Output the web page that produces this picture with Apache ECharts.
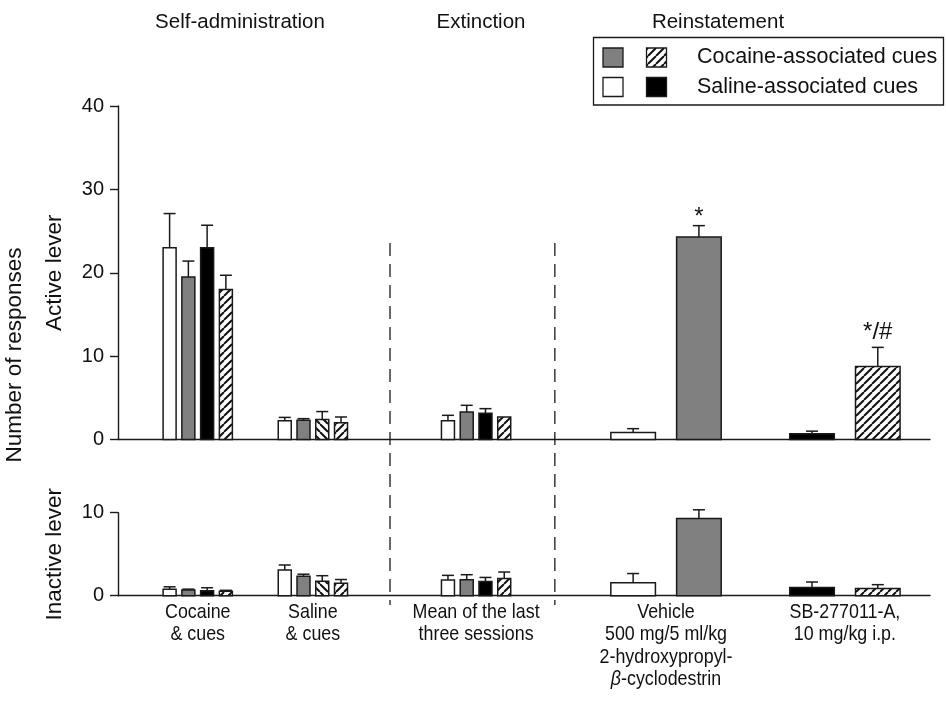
<!DOCTYPE html>
<html>
<head>
<meta charset="utf-8">
<script src="https://cdn.jsdelivr.net/npm/echarts@6/dist/echarts.min.js"></script>
<style>
  html, body { margin: 0; padding: 0; background: #ffffff; }
  #chart { width: 946px; height: 704px; }
</style>
</head>
<body>
<div id="chart"></div>
<script>
// ---- data ---------------------------------------------------------------
const groupLabels = [
  'Cocaine\n& cues',
  'Saline\n& cues',
  'Mean of the last\nthree sessions',
  'Vehicle\n500 mg/5 ml/kg\n2-hydroxypropyl-\n{it|β}-cyclodestrin',
  'SB-277011-A,\n10 mg/kg i.p.'
];
const phaseTitles = ['Self-administration', 'Extinction', 'Reinstatement'];
const legendLabels = ['Cocaine-associated cues', 'Saline-associated cues'];
const panelNames = ['Active lever', 'Inactive lever'];
const sharedYName = 'Number of responses';

// which x group each bar belongs to, and its cue condition
const barGroup = [0, 0, 0, 0, 1, 1, 1, 1, 2, 2, 2, 2, 3, 3, 4, 4];
const barCondition = [
  'salineA', 'cocaineA', 'salineB', 'cocaineB',
  'salineA', 'cocaineA', 'salineB', 'cocaineB',
  'salineA', 'cocaineA', 'salineB', 'cocaineB',
  'salineA', 'cocaineA',
  'salineB', 'cocaineB'
];

// mean responses and SEM, active lever
const activeMean = [23.0, 19.5, 23.0, 18.0, 2.25, 2.3, 2.4, 2.0, 2.25, 3.3, 3.15, 2.7, 0.85, 24.3, 0.7, 8.75];
const activeSem  = [4.1, 1.9, 2.7, 1.7, 0.4, 0.2, 0.95, 0.7, 0.65, 0.8, 0.55, 0, 0.45, 1.35, 0.3, 2.3];
const activeMarks = ['', '', '', '', '', '', '', '', '', '', '', '', '', '*', '', '*/#'];

// mean responses and SEM, inactive lever
const inactiveMean = [0.77, 0.69, 0.6, 0.53, 3.1, 2.34, 1.73, 1.5, 1.9, 1.93, 1.72, 2.08, 1.57, 9.3, 1.0, 0.88];
const inactiveSem  = [0.3, 0.1, 0.36, 0.12, 0.6, 0.25, 0.68, 0.45, 0.55, 0.6, 0.48, 0.77, 1.1, 1.05, 0.65, 0.45];
const inactiveMarks = inactiveMean.map(() => '');

const activeTicks = [0, 10, 20, 30, 40];
const inactiveTicks = [0, 10];

// ---- layout -------------------------------------------------------------
const X_MAX = 100;
const groupCenter = [9.82, 24.0, 44.1, 67.49, 89.52];
const phaseBounds = [33.5, 53.8];
const narrowBars = { pitch: 2.31, width: 1.6 };
const wideBars = { pitch: 8.1, width: 5.49 };
const CAP_PX = 12;
const markLift = { '*': 0, '*/#': 7 };

const FONT = '"Liberation Sans", Arial, sans-serif';
const INK = '#111111';

function hatch(dir) {
  const s = 8;
  const c = document.createElement('canvas');
  c.width = s; c.height = s;
  const g = c.getContext('2d');
  g.fillStyle = '#ffffff';
  g.fillRect(0, 0, s, s);
  g.strokeStyle = '#111111';
  g.lineWidth = 2;
  g.beginPath();
  for (const o of [-s, 0, s]) {
    if (dir === '/') { g.moveTo(o, s); g.lineTo(o + s, 0); }
    else { g.moveTo(o, 0); g.lineTo(o + s, s); }
  }
  g.stroke();
  return { image: c, repeat: 'repeat' };
}

const conditionFill = {
  salineA: '#ffffff',
  cocaineA: '#808080',
  salineB: '#000000',
  cocaineB: hatch('/')
};
const reversedHatch = hatch('\\');
function fillFor(i) {
  // the third saline-cue bar is drawn with the opposite hatch direction
  if (i === 6) return reversedHatch;
  return conditionFill[barCondition[i]];
}

function barSpec(i) {
  const g = barGroup[i];
  const members = [];
  barGroup.forEach((gg, j) => { if (gg === g) members.push(j); });
  const n = members.length;
  const k = members.indexOf(i);
  const spec = n >= 4 ? narrowBars : wideBars;
  return { x: groupCenter[g] + (k - (n - 1) / 2) * spec.pitch, w: spec.width };
}

function panelData(means, sems) {
  return means.map((v, i) => {
    const b = barSpec(i);
    return [b.x, v, sems[i], b.w, i];
  });
}

function barRenderer(marks) {
  return function (params, api) {
    const x = api.value(0), v = api.value(1), sem = api.value(2), w = api.value(3);
    const idx = api.value(4);
    const base = api.coord([x, 0]);
    const top = api.coord([x, v]);
    const halfW = api.size([w, 0])[0] / 2;
    const children = [{
      type: 'rect',
      shape: { x: base[0] - halfW, y: top[1], width: halfW * 2, height: base[1] - top[1] },
      style: { fill: fillFor(idx), stroke: '#1a1a1a', lineWidth: 1.5 }
    }];
    let topY = top[1];
    if (sem > 0) {
      const e = api.coord([x, v + sem]);
      topY = e[1];
      children.push({
        type: 'line',
        shape: { x1: base[0], y1: top[1], x2: base[0], y2: e[1] },
        style: { stroke: '#1a1a1a', lineWidth: 1.5 }
      });
      children.push({
        type: 'line',
        shape: { x1: base[0] - CAP_PX / 2, y1: e[1], x2: base[0] + CAP_PX / 2, y2: e[1] },
        style: { stroke: '#1a1a1a', lineWidth: 1.5 }
      });
    }
    const mark = marks[idx];
    if (mark) {
      children.push({
        type: 'text',
        style: {
          x: base[0], y: topY + 4 - (markLift[mark] || 0), text: mark,
          align: 'center', verticalAlign: 'bottom',
          fill: INK, font: '24px ' + FONT
        }
      });
    }
    return { type: 'group', children };
  };
}

const axisLine = { show: true, onZero: false, lineStyle: { color: '#1a1a1a', width: 1.4 } };

function yAxisFor(gridIndex, ticks, name) {
  return {
    type: 'value', gridIndex,
    min: ticks[0], max: ticks[ticks.length - 1], interval: ticks[1] - ticks[0],
    axisLine,
    axisTick: { show: true, inside: false, length: 8, lineStyle: { color: '#1a1a1a', width: 1.4 } },
    axisLabel: { fontSize: 20, color: INK, fontFamily: FONT, margin: 14 },
    splitLine: { show: false },
    name, nameLocation: 'middle', nameGap: 52,
    nameTextStyle: { fontSize: 22.5, color: INK, fontFamily: FONT }
  };
}

const option = {
  backgroundColor: '#ffffff',
  animation: false,
  grid: [
    { left: 118, right: 16, top: 106, height: 333.5 },
    { left: 118, right: 16, top: 512.7, height: 83 }
  ],
  xAxis: [0, 1].map(gi => ({
    type: 'value', gridIndex: gi, min: 0, max: X_MAX,
    axisLine, axisTick: { show: false }, axisLabel: { show: false }, splitLine: { show: false }
  })),
  yAxis: [
    yAxisFor(0, activeTicks, panelNames[0]),
    yAxisFor(1, inactiveTicks, panelNames[1])
  ],
  series: [
    {
      type: 'custom', xAxisIndex: 0, yAxisIndex: 0,
      renderItem: barRenderer(activeMarks), encode: { x: 0, y: 1 },
      data: panelData(activeMean, activeSem), clip: false, z: 3
    },
    {
      type: 'custom', xAxisIndex: 1, yAxisIndex: 1,
      renderItem: barRenderer(inactiveMarks), encode: { x: 0, y: 1 },
      data: panelData(inactiveMean, inactiveSem), clip: false, z: 3
    }
  ]
};

const chart = echarts.init(document.getElementById('chart'), null, { renderer: 'canvas' });
chart.setOption(option);

// phase separators, headers, group labels, legend and the shared axis title
const headerX = [240, 481, 718];
const graphics = [];
phaseBounds.forEach(b => {
  const px = chart.convertToPixel({ xAxisIndex: 0 }, b);
  graphics.push({
    type: 'line', z: 1,
    shape: { x1: px, y1: 243, x2: px, y2: 605 },
    style: { stroke: '#1a1a1a', lineWidth: 1.3, lineDash: [13, 8] }
  });
});
const axisBottomY = chart.convertToPixel({ yAxisIndex: 1 }, 0);
groupCenter.forEach((c, i) => {
  const px = chart.convertToPixel({ xAxisIndex: 1 }, c);
  graphics.push({
    type: 'text', x: px, y: axisBottomY + 5, scaleX: 0.85, scaleY: 1,
    style: {
      text: groupLabels[i], font: '21px ' + FONT, fill: INK,
      align: 'center', verticalAlign: 'top', lineHeight: 22.5,
      rich: { it: { fontStyle: 'italic', fontSize: 21, fontFamily: FONT, fill: INK, lineHeight: 22.5 } }
    }
  });
});
phaseTitles.forEach((t, i) => {
  graphics.push({
    type: 'text', x: headerX[i], y: 22,
    style: { text: t, font: '20.5px ' + FONT, fill: INK, align: 'center', verticalAlign: 'middle' }
  });
});
graphics.push({
  type: 'text', x: 15, y: 355, rotation: Math.PI / 2,
  style: { text: sharedYName, font: '22.5px ' + FONT, fill: INK, align: 'center', verticalAlign: 'middle' }
});
// legend box
graphics.push({
  type: 'rect', shape: { x: 593.5, y: 37.5, width: 350, height: 67.5 },
  style: { fill: '#ffffff', stroke: '#1a1a1a', lineWidth: 1.3 }
});
const swatches = [
  [603, 48, conditionFill.cocaineA], [646.5, 48, conditionFill.cocaineB],
  [603, 77.5, conditionFill.salineA], [646.5, 77.5, conditionFill.salineB]
];
swatches.forEach(s => graphics.push({
  type: 'rect', shape: { x: s[0], y: s[1], width: 20, height: 19 },
  style: { fill: s[2], stroke: '#1a1a1a', lineWidth: 1.3 }
}));
legendLabels.forEach((t, i) => graphics.push({
  type: 'text', x: 697, y: 57.5 + i * 29.5,
  style: { text: t, font: '21.5px ' + FONT, fill: INK, align: 'left', verticalAlign: 'middle' }
}));
chart.setOption({ graphic: graphics });
</script>
</body>
</html>
